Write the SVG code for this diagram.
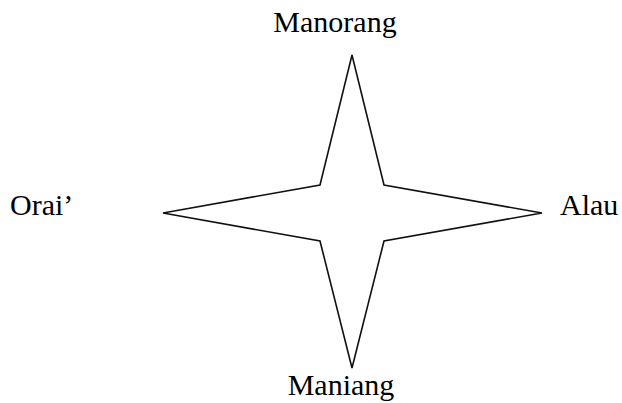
<svg xmlns="http://www.w3.org/2000/svg" width="622" height="403" viewBox="0 0 622 403">
<style>
.lbl{font-family:"Liberation Serif","Times New Roman",serif;font-size:30px;fill:#000}
.star{fill:#fff;stroke:#111;stroke-width:1.6;stroke-linejoin:miter}
</style>
<rect width="622" height="403" fill="#fff"/>
<g id="star">
<polygon class="star" points="352,55 384,185 542,213 384,241 352,368 320,241 163,213 320,185"/>
</g>
<g id="north"><text class="lbl" x="335" y="32" text-anchor="middle">Manorang</text></g>
<g id="west"><text class="lbl" x="10" y="215">Orai’</text></g>
<g id="east"><text class="lbl" x="560" y="215">Alau</text></g>
<g id="south"><text class="lbl" x="341" y="395" text-anchor="middle">Maniang</text></g>
</svg>
